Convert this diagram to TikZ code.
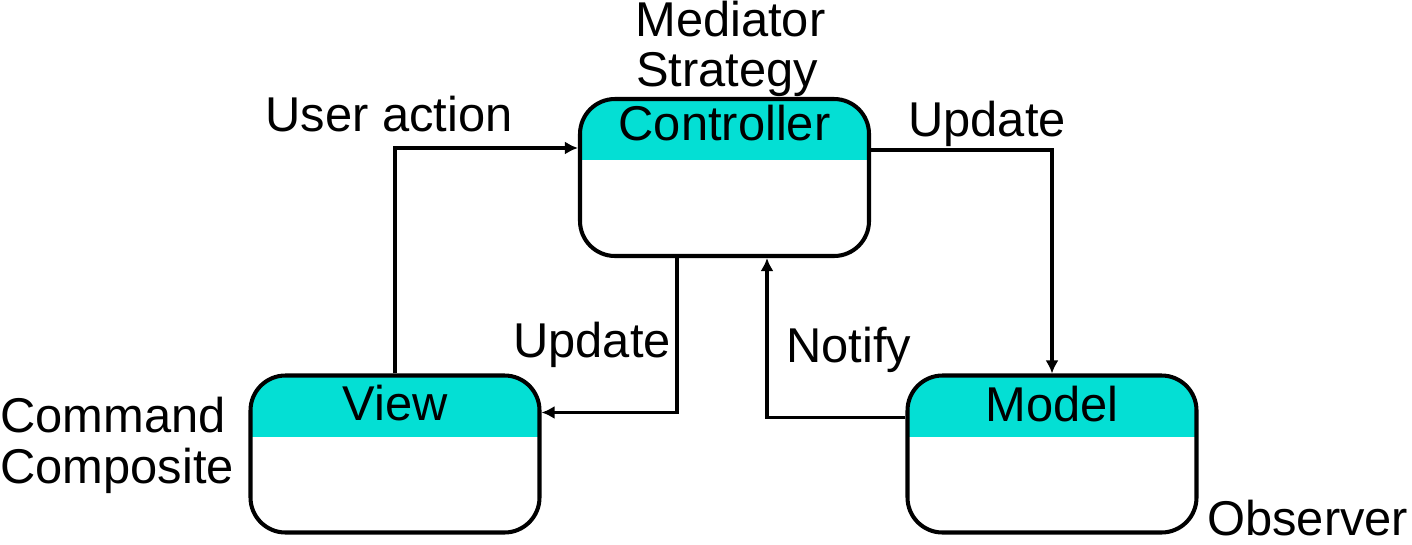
\documentclass[tikz,border=0pt]{standalone}
\usepackage{fontspec}
\setmainfont{Liberation Sans}
\usepackage{tikz}
\usetikzlibrary{arrows.meta}
\definecolor{headcol}{RGB}{4,223,212}
\tikzset{
  classbox/.style={draw=black, line width=2.3pt, rounded corners=0.7cm,
    minimum width=5.78cm, minimum height=3.14cm, inner sep=0pt,
    path picture={\fill[headcol, sharp corners] (path picture bounding box.north west)
      rectangle ([yshift=-1.22cm]path picture bounding box.north east);}},
  title/.style={anchor=base, inner sep=0pt, font=\fontsize{27.8}{33}\selectfont},
  tag/.style={anchor=base west, inner sep=0pt, font=\fontsize{27.8}{33}\selectfont},
  link/.style={line width=1.9pt, -{Latex[length=0.26cm,width=0.26cm]}}
}
\begin{document}
\begin{tikzpicture}
\useasboundingbox (0,0) rectangle (28.24,-10.88);

\node[classbox](ctrl) at (14.49,-3.55) {};
\node[classbox](view) at (7.9,-9.08) {};
\node[classbox](model) at (21.04,-9.08) {};

\node[title](ctrltitle) at ([yshift=-0.88cm]ctrl.north) {Controller};
\node[title](viewtitle) at ([yshift=-0.94cm]view.north) {View};
\node[title](modeltitle) at ([yshift=-0.96cm]model.north) {Model};

\node[tag](mediator) at (12.70,-0.72) {Mediator};
\node[tag](strategy) at (12.72,-1.72) {Strategy};
\node[tag](command) at (0,-8.64) {Command};
\node[tag](composite) at (0,-9.66) {Composite};
\node[tag](observer) at (24.14,-10.7) {Observer};

\node[tag](useraction) at (5.30,-2.62) {User action};
\node[tag](updateright) at (18.16,-2.72) {Update};
\node[tag](updateleft) at (10.26,-7.14) {Update};
\node[tag](notify) at (15.72,-7.24) {Notify};

\draw[link] (view.north) |- ([yshift=-1.02cm]ctrl.north west);
\draw[link] ([yshift=-1.06cm]ctrl.north east) -| (model.north);
\draw[link] ([xshift=-0.95cm]ctrl.south) |- ([yshift=-0.78cm]view.north east);
\draw[link] ([yshift=-0.88cm]model.north west) -| ([xshift=0.85cm]ctrl.south);
\end{tikzpicture}
\end{document}
